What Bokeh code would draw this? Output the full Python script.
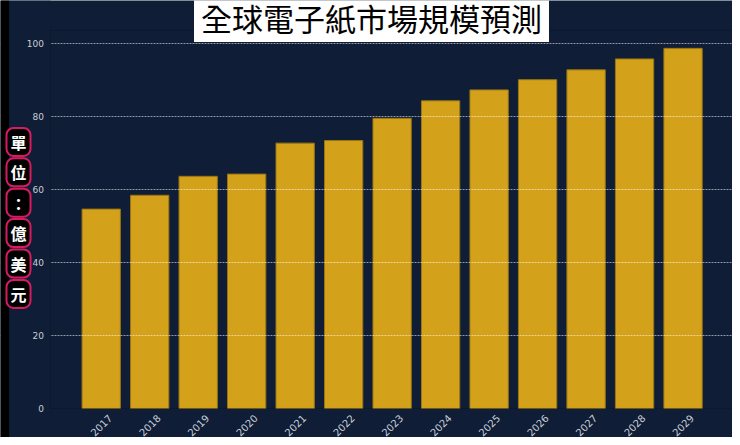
from bokeh.plotting import figure
from bokeh.models import ColumnDataSource, Range1d, FixedTicker, Label, LabelSet, BoxAnnotation
from bokeh.core.properties import value
from bokeh.embed import file_html
from bokeh.resources import INLINE
import math

# ---- data ----
years = [2017, 2018, 2019, 2020, 2021, 2022, 2023, 2024, 2025, 2026, 2027, 2028, 2029]
year_labels = [str(y) for y in years]
market_size = [54.7, 58.5, 63.7, 64.3, 72.8, 73.5, 79.6, 84.4, 87.4, 90.2, 92.9, 95.9, 98.8]
y_ticks = [0, 20, 40, 60, 80, 100]
y_tick_labels = [str(v) for v in y_ticks]
title_text = "全球電子紙市場規模預測"
y_label_text = "單位：億美元"

BG = "#0f1d36"
GOLD = "#d4a21a"
TICK_COLOR = "#c9ced8"
FRAME_LINE = "#08111f"

W, H = 732, 437
PL = 50          # left edge of plot area (px)
Y_TOP = 103.7    # value at top of plot area

src = ColumnDataSource(dict(year=years, value=market_size, label=year_labels))
ysrc = ColumnDataSource(dict(y=y_ticks, label=y_tick_labels))

# frame covers the whole canvas; plot area is drawn inside it
p = figure(width=W, height=H, output_backend="svg", toolbar_location=None,
           x_range=Range1d(2014.923, 2030.02), y_range=Range1d(-7.96, 111.93),
           min_border=0)
p.axis.visible = False
p.background_fill_color = BG
p.border_fill_color = BG
p.outline_line_color = None

p.vbar(x="year", top="value", width=0.79, source=src,
       fill_color=GOLD, line_color="#9a7612", line_width=1)

# grid lines (drawn above bars, faint)
p.xgrid.grid_line_color = None
p.ygrid.ticker = FixedTicker(ticks=y_ticks[1:])
p.ygrid.grid_line_color = "#ffffff"
p.ygrid.grid_line_alpha = 0.55
p.ygrid.grid_line_dash = "2 1"
p.ygrid.grid_line_width = 1
p.ygrid.level = "guide"

# cover left of plot area so grid lines start at the plot edge
p.add_layout(BoxAnnotation(right=PL, right_units="screen", fill_color=BG, fill_alpha=1.0,
                           line_color=None))
# plot-area outline
p.add_layout(BoxAnnotation(left=PL, left_units="screen", bottom=0, top=Y_TOP,
                           fill_alpha=0.0, line_color=FRAME_LINE, line_width=1))
# black strip at the very left
p.add_layout(BoxAnnotation(right=8.6, right_units="screen", fill_color="black", fill_alpha=1.0,
                           line_color=None))

# y tick labels
p.add_layout(LabelSet(x=PL - 6.5, y="y", x_units="screen", y_units="data", text="label",
                      source=ysrc, text_align="right", text_baseline="middle",
                      text_font=value("DejaVu Sans"), text_font_size=value("9px"),
                      text_color=TICK_COLOR))

# rotated year labels centred under each bar
p.add_layout(LabelSet(x="year", y=12.3, x_units="data", y_units="screen", text="label",
                      source=src, angle=math.pi / 4, text_align="center",
                      text_baseline="middle", text_font=value("DejaVu Sans"),
                      text_font_size=value("10px"), text_color=TICK_COLOR))

# title box
p.add_layout(Label(x=371, y=H - 16, x_units="screen", y_units="screen", text=title_text,
                   text_align="center", text_baseline="middle",
                   text_font="Noto Sans CJK TC", text_font_size="31px", text_color="black",
                   background_fill_color="white", background_fill_alpha=1.0,
                   padding=(7, 7, 4, 2)))

# vertical y-axis label, one character per box
for i, ch in enumerate(y_label_text):
    p.add_layout(Label(x=18, y=H - 141.4 - 30.4 * i, x_units="screen", y_units="screen",
                       text=ch, text_align="center", text_baseline="middle",
                       text_font="Noto Sans CJK TC", text_font_size="16px",
                       text_font_style="bold", text_color="white",
                       background_fill_color="black", background_fill_alpha=1.0,
                       border_line_color="#d81b60", border_line_width=2,
                       border_radius=7, padding=(4, 4, 2, 2)))

open("out.html", "w").write(file_html(p, INLINE))
